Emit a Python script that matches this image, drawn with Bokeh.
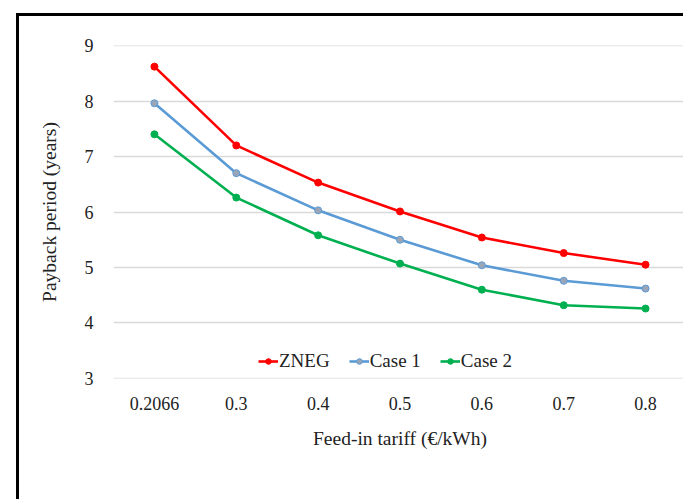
import math
from bokeh.plotting import figure
from bokeh.models import Range1d, Legend, LegendItem
from bokeh.embed import file_html
from bokeh.resources import INLINE

tariffs = ["0.2066", "0.3", "0.4", "0.5", "0.6", "0.7", "0.8"]
zneg = [8.62, 7.20, 6.53, 6.01, 5.54, 5.26, 5.05]
case1 = [7.96, 6.70, 6.03, 5.50, 5.04, 4.76, 4.62]
case2 = [7.40, 6.26, 5.58, 5.07, 4.60, 4.32, 4.26]
series_names = ["ZNEG", "Case 1", "Case 2"]
y_title = "Payback period (years)"
x_title = "Feed-in tariff (\u20ac/kWh)"

FONT = "Liberation Serif"

p = figure(x_range=tariffs, y_range=Range1d(2.999, 9.001), width=667, height=486,
           output_backend="svg", toolbar_location=None,
           min_border_left=94, min_border_top=29, min_border_right=0,
           min_border_bottom=124)
p.styles = {"border-left": "3px solid black", "border-top": "3px solid black",
            "margin-left": "16px", "margin-top": "13px"}
p.outline_line_color = None
p.background_fill_color = "white"
p.border_fill_color = "white"

p.xgrid.grid_line_color = None
p.ygrid.grid_line_color = "#D9D9D9"
p.ygrid.grid_line_width = 1.3
p.yaxis.ticker = [3, 4, 5, 6, 7, 8, 9]

for ax in (p.xaxis, p.yaxis):
    ax.axis_line_color = None
    ax.major_tick_line_color = None
    ax.minor_tick_line_color = None
    ax.major_label_text_font = FONT
    ax.major_label_text_font_size = "18px"
    ax.major_label_text_color = "#222222"
    ax.axis_label_text_font = FONT
    ax.axis_label_text_font_size = "19.5px"
    ax.axis_label_text_font_style = "normal"
    ax.axis_label_text_color = "#222222"
p.yaxis.major_label_standoff = 14
p.xaxis.major_label_standoff = 12
p.xaxis.axis_label = x_title
p.yaxis.axis_label = y_title
p.xaxis.axis_label_standoff = 15
p.yaxis.axis_label_standoff = 22

styles = [("#FF0000", "#FF0000", "#FF0000"),
          ("#5B9BD5", "#5B9BD5", "#9AA6B8"),
          ("#00B050", "#00B050", "#00B050")]
items = []
for name, vals, (lc, mlc, mfc) in zip(series_names, [zneg, case1, case2], styles):
    r1 = p.line(tariffs, vals, line_color=lc, line_width=2.6)
    r2 = p.scatter(tariffs, vals, size=7, fill_color=mfc, line_color=mlc, line_width=1)
    items.append(LegendItem(label=name, renderers=[r1, r2]))

legend = Legend(items=items, orientation="horizontal", location=(145, 6),
                background_fill_alpha=0, border_line_color=None,
                label_text_font=FONT, label_text_font_size="19px",
                label_text_color="#222222", label_height=14, glyph_height=14,
                glyph_width=20, label_standoff=1, spacing=19, padding=0, margin=0)
p.add_layout(legend, "center")

open("out.html", "w").write(file_html(p, INLINE))
